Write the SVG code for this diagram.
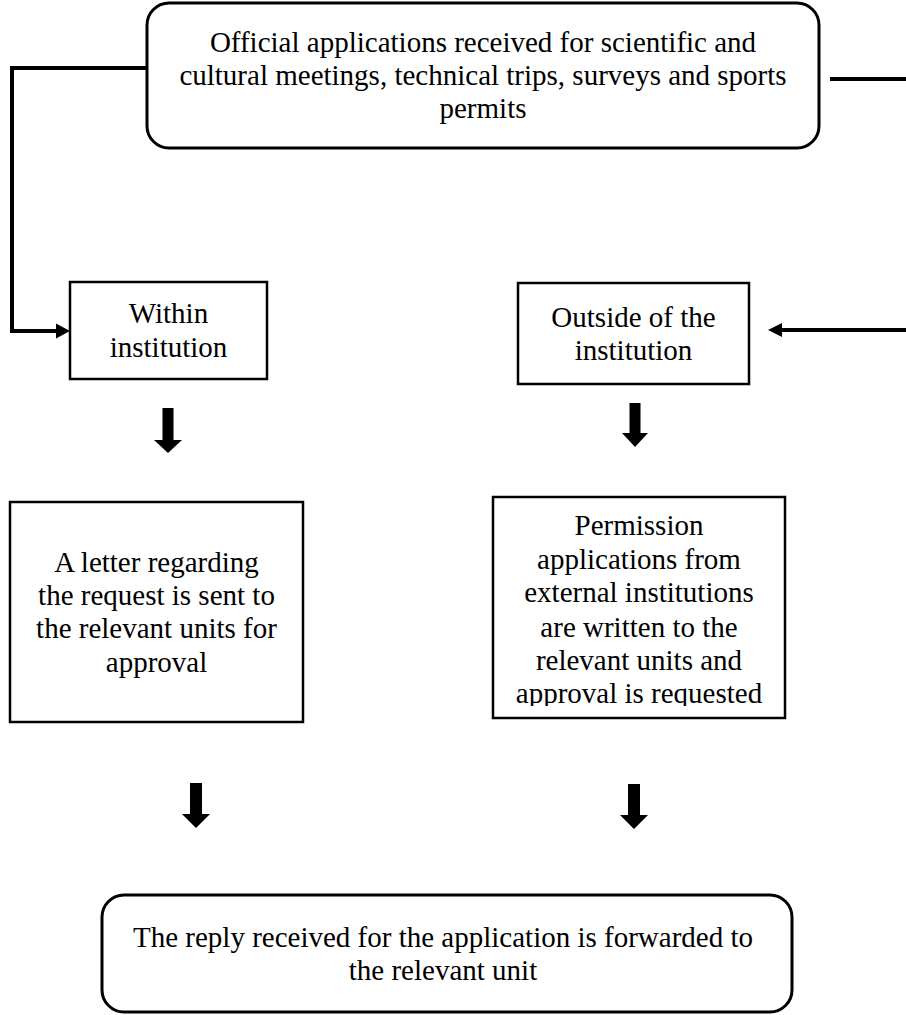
<svg xmlns="http://www.w3.org/2000/svg" width="906" height="1015" viewBox="0 0 906 1015">
  <style>
    .box { fill: #ffffff; stroke: #000000; stroke-width: 2.5; }
    .rbox { fill: #ffffff; stroke: #000000; stroke-width: 3; }
    .lbl { font-family: "Liberation Serif", "Times New Roman", serif; font-size: 29px; fill: #000000; text-anchor: middle; }
    .line { fill: none; stroke: #000000; stroke-width: 4; }
    .head { fill: #000000; stroke: none; }
  </style>
  <defs>
    <clipPath id="permClip">
      <rect x="493" y="497" width="292" height="209"/>
    </clipPath>
  </defs>
  <rect x="0" y="0" width="906" height="1015" fill="#ffffff"/>

  <g id="connectors">
    <path class="line" d="M147,68 H12 V331 H57"/>
    <polygon class="head" points="56,323.5 70,331 56,338.5"/>
    <path class="line" d="M830,79 H906"/>
    <path class="line" d="M906,330 H781"/>
    <polygon class="head" points="782,323 768,330 782,337"/>
    <polygon class="head" points="162.5,408 173.5,408 173.5,440 182,440 168,453 154,440 162.5,440"/>
    <polygon class="head" points="629.5,403 640.5,403 640.5,433 648,433 635,447 622,433 629.5,433"/>
    <polygon class="head" points="190,783 202,783 202,814 210,814 196,828 182,814 190,814"/>
    <polygon class="head" points="628,784 640,784 640,815 648,815 634,829 620,815 628,815"/>
  </g>

  <g id="node-applications">
    <rect class="rbox" x="147" y="3" width="672" height="145" rx="22" ry="22"/>
    <text class="lbl" x="483" y="52">Official applications received for scientific and</text>
    <text class="lbl" x="483" y="85">cultural meetings, technical trips, surveys and sports</text>
    <text class="lbl" x="483" y="118">permits</text>
  </g>

  <g id="node-within">
    <rect class="box" x="70" y="282" width="197" height="97"/>
    <text class="lbl" x="168.5" y="323">Within</text>
    <text class="lbl" x="168.5" y="357">institution</text>
  </g>

  <g id="node-outside">
    <rect class="box" x="518" y="283" width="231" height="101"/>
    <text class="lbl" x="633.5" y="327">Outside of the</text>
    <text class="lbl" x="633.5" y="360">institution</text>
  </g>

  <g id="node-letter">
    <rect class="box" x="10" y="502" width="293" height="220"/>
    <text class="lbl" x="156.5" y="572">A letter regarding</text>
    <text class="lbl" x="156.5" y="605">the request is sent to</text>
    <text class="lbl" x="156.5" y="638">the relevant units for</text>
    <text class="lbl" x="156.5" y="672">approval</text>
  </g>

  <g id="node-permission">
    <rect class="box" x="493" y="497" width="292" height="221"/>
    <g clip-path="url(#permClip)">
      <text class="lbl" x="639" y="535">Permission</text>
      <text class="lbl" x="639" y="569">applications from</text>
      <text class="lbl" x="639" y="602">external institutions</text>
      <text class="lbl" x="639" y="637">are written to the</text>
      <text class="lbl" x="639" y="670">relevant units and</text>
      <text class="lbl" x="639" y="703">approval is requested</text>
    </g>
  </g>

  <g id="node-reply">
    <rect class="rbox" x="102" y="895" width="690" height="117" rx="22" ry="22"/>
    <text class="lbl" x="443" y="947">The reply received for the application is forwarded to</text>
    <text class="lbl" x="443" y="980">the relevant unit</text>
  </g>
</svg>
